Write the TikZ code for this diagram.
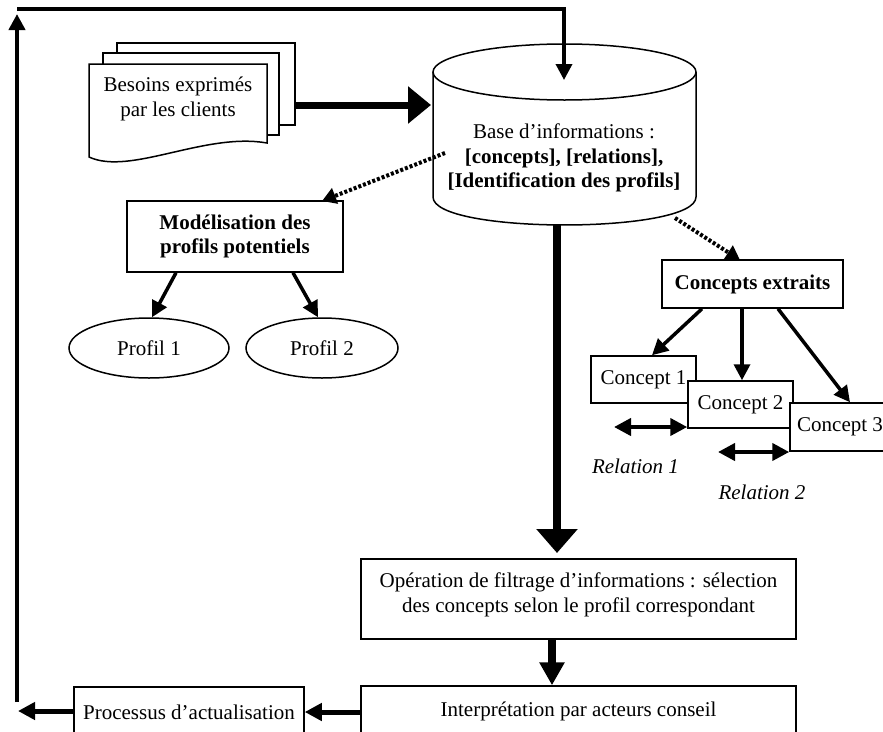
\documentclass[tikz,border=0pt]{standalone}
\usepackage{fontspec}
\setmainfont{Liberation Serif}
\usetikzlibrary{arrows.meta,shapes.geometric}

\tikzset{
  base font/.style={font=\fontsize{21}{24.5}\selectfont},
  boxnode/.style={draw, line width=1.5pt, fill=white, inner sep=0pt, align=center},
  ovalnode/.style={draw, line width=1.5pt, ellipse, inner sep=0pt, align=center},
  plain/.style={inner sep=0pt, align=center},
  slanted/.style={plain, font=\fontsize{21}{24.5}\selectfont\itshape},
  thinarrow/.style={line width=3.5pt, -{Triangle[length=16pt,width=16pt]}},
  midarrow/.style={line width=5pt, -{Triangle[length=17pt,width=17pt]}},
  heavyarrow/.style={line width=8pt, -{Triangle[length=24pt,width=40pt]}},
  dotarrow/.style={line width=4pt, dash pattern=on 3pt off 2pt, -{Triangle[length=14pt,width=16pt]}},
  twoway/.style={line width=4pt, {Triangle[length=17pt,width=17pt]}-{Triangle[length=17pt,width=17pt]}},
  pageline/.style={line width=1.5pt, fill=white, line join=miter},
}

\begin{document}
\begin{tikzpicture}[x=1pt, y=-1pt, base font]
\useasboundingbox (0,0) rectangle (883,731);

% --- stacked client documents ---
\draw[pageline] (117,43) rectangle (295,125);
\draw[pageline] (103,53) rectangle (279,135);
\draw[pageline] (89,64) -- (267,64) -- (267,143)
   .. controls (205,132) and (130,176) .. (89,157) -- cycle;
\node[plain] (besoins) at (178,99) {Besoins exprimés\\par les clients};

% --- information base (cylinder) ---
\draw[line width=1.5pt, fill=white] (433,72) -- (433,197)
   .. controls (433,234.3) and (696,234.3) .. (696,197) -- (696,72);
\draw[line width=1.5pt] (564.5,72) ellipse [x radius=131.5pt, y radius=28pt];
\node[plain] (base) at (564,158) {Base d’informations :\\
  \textbf{[concepts], [relations],}\\ \textbf{[Identification des profils]}};

% --- profile modelling ---
\node[boxnode, minimum width=216pt, minimum height=71pt] (model) at (235,236.5)
  {\textbf{Modélisation des}\\ \textbf{profils potentiels}};
\node[ovalnode, minimum width=160pt, minimum height=60pt] (p1) at (149,348) {Profil 1};
\node[ovalnode, minimum width=152pt, minimum height=60pt] (p2) at (322,348) {Profil 2};

% --- extracted concepts ---
\node[boxnode, minimum width=181pt, minimum height=48pt] (cext) at (752.5,284)
  {\textbf{Concepts extraits}};
\node[boxnode, minimum width=105pt, minimum height=47pt] (c1) at (643.5,379.5) {Concept 1};
\node[boxnode, minimum width=105pt, minimum height=47pt] (c2) at (740.5,404.5) {Concept 2};
\node[boxnode, minimum width=105pt, minimum height=48pt] (c3) at (842.5,427) {};
\node[plain, anchor=west] (c3txt) at (797,427) {Concept 3};
\node[slanted] (rel1) at (635.5,466) {Relation 1};
\node[slanted] (rel2) at (762,492) {Relation 2};

% --- filtering, interpretation, update ---
\node[boxnode, minimum width=435pt, minimum height=80pt] (filtre) at (578.5,599) {};
\node[plain] (filtretxt) at (578.5,595)
  {Opération de filtrage d’informations : sélection\\
   des concepts selon le profil correspondant};
\node[boxnode, minimum width=435pt, minimum height=50pt] (interp) at (578.5,711)
  {Interprétation par acteurs conseil};
\node[boxnode, minimum width=230pt, minimum height=50pt] (maj) at (189,712)
  {Processus d’actualisation};

% --- connector end points ---
\coordinate (docsout) at (295,105);
\coordinate (basein) at (431,105);
\coordinate (basetop) at (564,80);
\coordinate (loopcorner) at (17,9);
\coordinate (loopbottom) at (17,702);
\coordinate (looptop) at (17,14);
\coordinate (exitleft) at (18,711);
\coordinate (baseleftout) at (445,153);
\coordinate (modelin) at (322,201);
\coordinate (baserightout) at (675,218);
\coordinate (cextin) at (740,260);
\coordinate (basebottom) at (557,224);
\coordinate (filtrein) at (557,553);

% --- connectors ---
\draw[line width=7pt, -{Triangle[length=23pt,width=36pt]}] (docsout) -- (basein);
\draw[line width=3.5pt, -{Triangle[length=16pt,width=16pt]}] (loopcorner) -| (basetop);
\draw[line width=4pt, -{Triangle[length=16pt,width=16pt]}] (loopbottom) -- (looptop);

\draw[dotarrow] (baseleftout) -- (modelin);
\draw[dotarrow] (baserightout) -- (cextin);

\draw[thinarrow] (model.south -| 176,0) -- (p1.north -| 152,0);
\draw[thinarrow] (model.south -| 293,0) -- (p2.north -| 318,0);

\draw[thinarrow] (cext.south -| 702,0) -- (c1.north -| 652,0);
\draw[thinarrow] (cext.south -| 742,0) -- (c2.north -| 742,0);
\draw[thinarrow] (cext.south -| 778,0) -- (c3.north -| 850,0);

\draw[twoway] (614,427) coordinate (r1a) -- (c2.west |- 0,427);
\draw[twoway] (718,452) coordinate (r2a) -- (c3.west |- 0,452);

\draw[heavyarrow] (basebottom) -- (filtrein);
\draw[line width=8pt, -{Triangle[length=23pt,width=24pt]}] (filtre.south -| 552,0) -- (interp.north -| 552,0);
\draw[midarrow] (interp.west |- 0,712) -- (maj.east |- 0,712);
\draw[midarrow] (maj.west |- 0,711) -- (exitleft);
\end{tikzpicture}
\end{document}
